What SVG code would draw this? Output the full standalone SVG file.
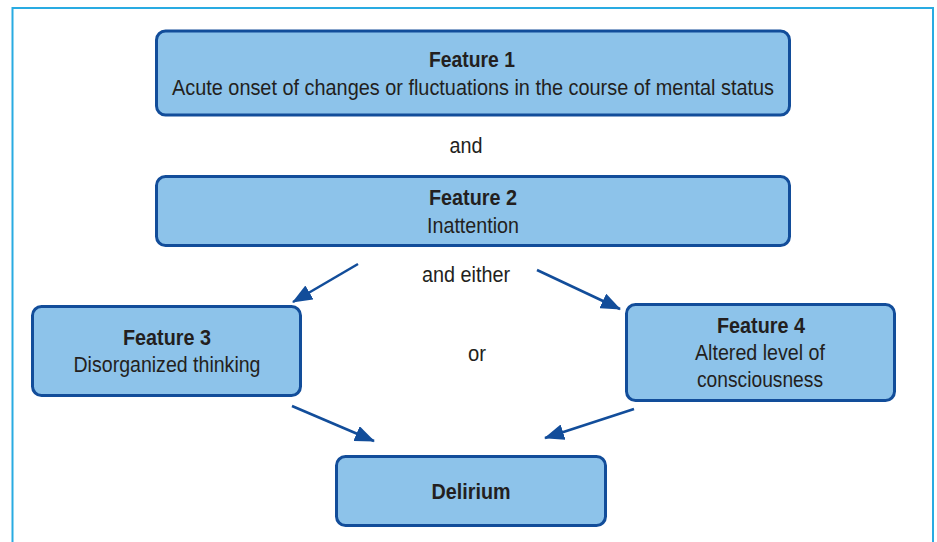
<svg xmlns="http://www.w3.org/2000/svg" width="937" height="542" viewBox="0 0 937 542">
<defs>
<style>
.box{fill:#8dc3ea;stroke:#124d9a;stroke-width:3}
.t{font-family:"Liberation Sans",Arial,sans-serif;font-size:22px;fill:#231f20;text-anchor:middle}
.b{font-weight:bold}
.c{stroke:#124d9a;stroke-width:2.6;fill:none;marker-end:url(#ah)}
</style>
<marker id="ah" viewBox="0 0 20 16" refX="19" refY="8" markerUnits="userSpaceOnUse" markerWidth="20" markerHeight="16" orient="auto">
<path d="M0,0 L20,8 L0,16 Z" fill="#124d9a"/>
</marker>
</defs>
<rect x="12.5" y="8" width="920.5" height="545" fill="none" stroke="#29abe2" stroke-width="2"/>
<g id="feature1">
<rect class="box" x="156.5" y="31" width="633" height="84" rx="9"/>
<text class="t b" x="472" y="67" textLength="86" lengthAdjust="spacingAndGlyphs">Feature 1</text>
<text class="t" x="473" y="95" textLength="602" lengthAdjust="spacingAndGlyphs">Acute onset of changes or fluctuations in the course of mental status</text>
</g>
<g id="and"><text class="t" x="466" y="153" textLength="33" lengthAdjust="spacingAndGlyphs">and</text></g>
<g id="feature2">
<rect class="box" x="156.5" y="176.5" width="633" height="69" rx="9"/>
<text class="t b" x="473" y="205" textLength="88" lengthAdjust="spacingAndGlyphs">Feature 2</text>
<text class="t" x="473" y="233" textLength="92" lengthAdjust="spacingAndGlyphs">Inattention</text>
</g>
<g id="andeither"><text class="t" x="466" y="282" textLength="88" lengthAdjust="spacingAndGlyphs">and either</text></g>
<g id="feature3">
<rect class="box" x="32.5" y="306.5" width="268" height="89" rx="9"/>
<text class="t b" x="167" y="345" textLength="88" lengthAdjust="spacingAndGlyphs">Feature 3</text>
<text class="t" x="167" y="372" textLength="187" lengthAdjust="spacingAndGlyphs">Disorganized thinking</text>
</g>
<g id="or"><text class="t" x="477" y="361" textLength="18" lengthAdjust="spacingAndGlyphs">or</text></g>
<g id="feature4">
<rect class="box" x="626.5" y="304.5" width="268" height="96" rx="9"/>
<text class="t b" x="761" y="333" textLength="88" lengthAdjust="spacingAndGlyphs">Feature 4</text>
<text class="t" x="760" y="360" textLength="130" lengthAdjust="spacingAndGlyphs">Altered level of</text>
<text class="t" x="760" y="387" textLength="126" lengthAdjust="spacingAndGlyphs">consciousness</text>
</g>
<g id="delirium">
<rect class="box" x="336.5" y="456.5" width="269" height="69" rx="9"/>
<text class="t b" x="471" y="499" textLength="79" lengthAdjust="spacingAndGlyphs">Delirium</text>
</g>
<g id="connectors">
<line class="c" x1="358" y1="264" x2="293" y2="302"/>
<line class="c" x1="537" y1="270" x2="620" y2="309"/>
<line class="c" x1="292" y1="406" x2="374" y2="441"/>
<line class="c" x1="634" y1="409" x2="545" y2="438"/>
</g>
</svg>
